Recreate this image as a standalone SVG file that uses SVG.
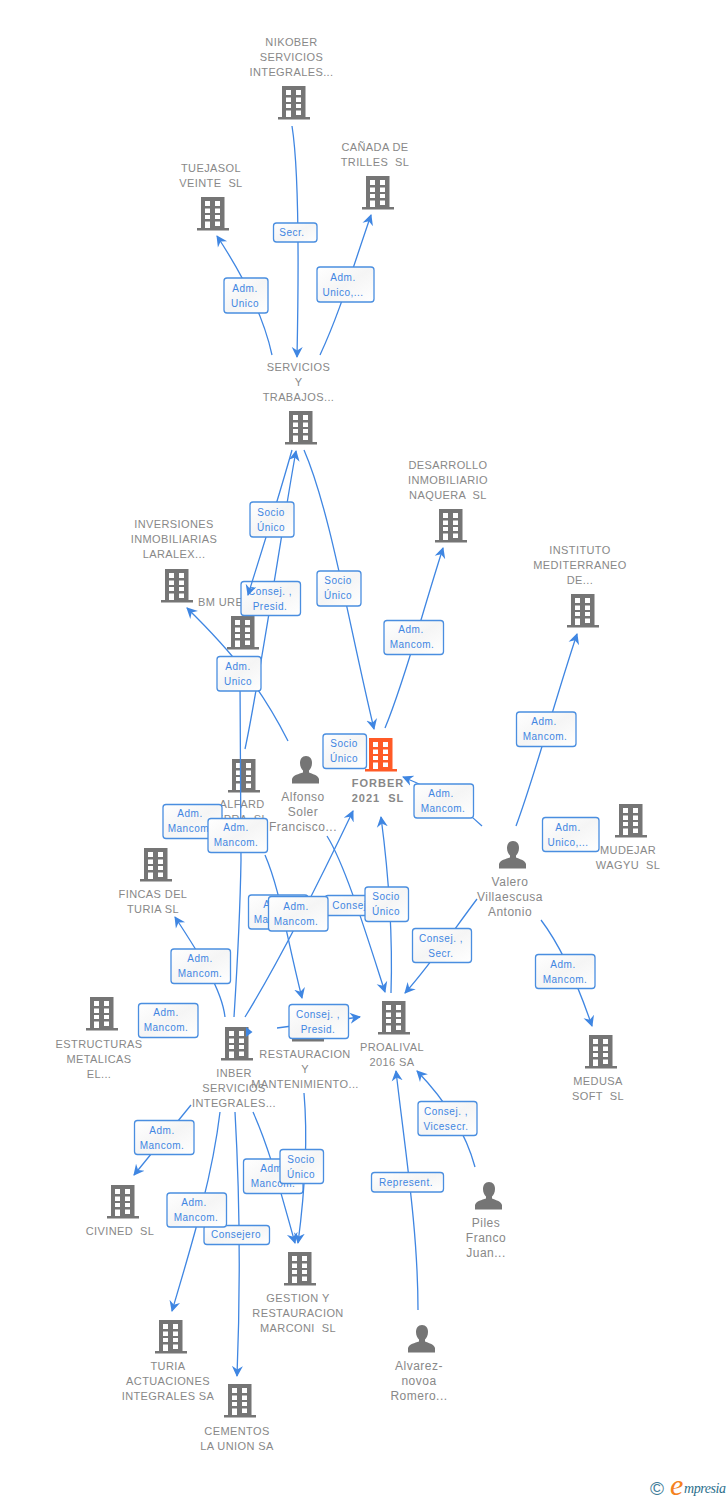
<svg xmlns="http://www.w3.org/2000/svg" width="728" height="1500" viewBox="0 0 728 1500">
<style>
.lb{font:11px "Liberation Sans",Arial,sans-serif;fill:#888888;text-anchor:middle;letter-spacing:.4px;white-space:pre}
.pl{font:12px "Liberation Sans",Arial,sans-serif;fill:#888888;text-anchor:middle;letter-spacing:.5px}
.b{font-weight:bold;letter-spacing:1px}
.c{fill:none;stroke:#3f86e2;stroke-width:1.3}
.a{marker-end:url(#ah)}
.bx{fill:url(#bg);stroke:#4a8ee0;stroke-width:1.3}
.t{font:10px "Liberation Sans",Arial,sans-serif;fill:#3f86e2;text-anchor:middle;letter-spacing:.5px}
</style>
<defs>
<linearGradient id="bg" x1="0" y1="0" x2="1" y2="1"><stop offset="0" stop-color="#ffffff"/><stop offset=".5" stop-color="#f5f5f5"/><stop offset="1" stop-color="#ffffff"/></linearGradient>
<marker id="ah" markerUnits="userSpaceOnUse" markerWidth="14" markerHeight="14" refX="10" refY="6" orient="auto"><path d="M0,.5 L11,6 L0,11.5 L3.500,6 Z" fill="#3f86e2"/></marker>
<symbol id="bld" width="32" height="34" viewBox="0 0 32 34" overflow="visible">
<path fill-rule="evenodd" d="M4,0H27.5V31H32V33.5H0V31H4ZM8,4V9H13V4ZM18,4V9H23V4ZM8,11.5V16H13V11.5ZM18,11.5V16H23V11.5ZM8,18V22H13V18ZM18,18V22H23V18ZM8,24.5V31H13V24.5ZM18,24.5V29H23V24.5Z"/>
</symbol>
<symbol id="psn" width="28" height="28" viewBox="0 0 28 28">
<path fill="#757575" d="M14,0C10,0 8,3 8,7C8,10.500 9.500,13 11,14.500V16.500C7,18 1,19 0,23V27.500H27V23C26,19 20,18 17,16.500V14.500C18.500,13 20,10.500 20,7C20,3 18,0 14,0Z"/>
</symbol>
</defs>
<rect width="728" height="1500" fill="#ffffff"/>
<g id="nodes" fill="#757575">
<g id="n-nikober"><use href="#bld" x="278" y="86"/><text class="lb"><tspan x="291.500" y="46">NIKOBER</tspan><tspan x="291.500" y="61">SERVICIOS</tspan><tspan x="291.500" y="76">INTEGRALES...</tspan></text></g>
<g id="n-tuejasol"><use href="#bld" x="197" y="197"/><text class="lb"><tspan x="211" y="172">TUEJASOL</tspan><tspan x="211" y="187">VEINTE  SL</tspan></text></g>
<g id="n-canada"><use href="#bld" x="362" y="176"/><text class="lb"><tspan x="375" y="151">CAÑADA DE</tspan><tspan x="375" y="166">TRILLES  SL</tspan></text></g>
<g id="n-servicios"><use href="#bld" x="285" y="411"/><text class="lb"><tspan x="298.500" y="371">SERVICIOS</tspan><tspan x="298.500" y="386">Y</tspan><tspan x="298.500" y="401">TRABAJOS...</tspan></text></g>
<g id="n-desarrollo"><use href="#bld" x="435" y="509"/><text class="lb"><tspan x="448" y="469">DESARROLLO</tspan><tspan x="448" y="484">INMOBILIARIO</tspan><tspan x="448" y="499">NAQUERA  SL</tspan></text></g>
<g id="n-inversiones"><use href="#bld" x="161" y="569"/><text class="lb"><tspan x="174" y="528">INVERSIONES</tspan><tspan x="174" y="543">INMOBILIARIAS</tspan><tspan x="174" y="558">LARALEX...</tspan></text></g>
<g id="n-bmure"><use href="#bld" x="227" y="616"/><text class="lb" style="text-anchor:start" x="198" y="606">BM URE</text></g>
<g id="n-instituto"><use href="#bld" x="567" y="594"/><text class="lb"><tspan x="580" y="554">INSTITUTO</tspan><tspan x="580" y="569">MEDITERRANEO</tspan><tspan x="580" y="584">DE...</tspan></text></g>
<g id="n-alfard"><use href="#bld" x="228" y="759"/><text class="lb"><tspan x="242" y="808">ALFARD</tspan><tspan x="242" y="823">KPRA  SL</tspan></text></g>
<g id="n-forber"><use href="#bld" x="365" y="738" fill="#ff5a26"/><text class="lb b"><tspan x="378" y="787">FORBER</tspan><tspan x="378" y="802">2021  SL</tspan></text></g>
<g id="n-mudejar"><use href="#bld" x="615" y="804"/><text class="lb"><tspan x="628" y="854">MUDEJAR</tspan><tspan x="628" y="869">WAGYU  SL</tspan></text></g>
<g id="n-fincas"><use href="#bld" x="140" y="848"/><text class="lb"><tspan x="153" y="898">FINCAS DEL</tspan><tspan x="153" y="913">TURIA SL</tspan></text></g>
<g id="n-estructuras"><use href="#bld" x="86" y="997"/><text class="lb"><tspan x="99" y="1048">ESTRUCTURAS</tspan><tspan x="99" y="1063">METALICAS</tspan><tspan x="99" y="1078">EL...</tspan></text></g>
<g id="n-inber"><use href="#bld" x="221" y="1027"/><text class="lb"><tspan x="234" y="1077">INBER</tspan><tspan x="234" y="1092">SERVICIOS</tspan><tspan x="234" y="1107">INTEGRALES...</tspan></text></g>
<g id="n-restauracion"><use href="#bld" x="292" y="1008"/><text class="lb"><tspan x="305" y="1058">RESTAURACION</tspan><tspan x="305" y="1073">Y</tspan><tspan x="305" y="1088">MANTENIMIENTO...</tspan></text></g>
<g id="n-proalival"><use href="#bld" x="378" y="1001"/><text class="lb"><tspan x="392" y="1051">PROALIVAL</tspan><tspan x="392" y="1066">2016 SA</tspan></text></g>
<g id="n-medusa"><use href="#bld" x="585" y="1035"/><text class="lb"><tspan x="598" y="1085">MEDUSA</tspan><tspan x="598" y="1100">SOFT  SL</tspan></text></g>
<g id="n-civined"><use href="#bld" x="107" y="1185"/><text class="lb" x="120" y="1235">CIVINED  SL</text></g>
<g id="n-gestion"><use href="#bld" x="284" y="1252"/><text class="lb"><tspan x="298" y="1302">GESTION Y</tspan><tspan x="298" y="1317">RESTAURACION</tspan><tspan x="298" y="1332">MARCONI  SL</tspan></text></g>
<g id="n-turia"><use href="#bld" x="155" y="1320"/><text class="lb"><tspan x="168" y="1370">TURIA</tspan><tspan x="168" y="1385">ACTUACIONES</tspan><tspan x="168" y="1400">INTEGRALES SA</tspan></text></g>
<g id="n-cementos"><use href="#bld" x="224" y="1384"/><text class="lb"><tspan x="237" y="1435">CEMENTOS</tspan><tspan x="237" y="1450">LA UNION SA</tspan></text></g>
<g id="n-alfonso"><use href="#psn" x="292" y="756"/><text class="pl"><tspan x="303" y="801">Alfonso</tspan><tspan x="303" y="816">Soler</tspan><tspan x="303" y="831">Francisco...</tspan></text></g>
<g id="n-valero"><use href="#psn" x="499" y="841"/><text class="pl"><tspan x="510" y="886">Valero</tspan><tspan x="510" y="901">Villaescusa</tspan><tspan x="510" y="916">Antonio</tspan></text></g>
<g id="n-piles"><use href="#psn" x="475" y="1182"/><text class="pl"><tspan x="486" y="1227">Piles</tspan><tspan x="486" y="1242">Franco</tspan><tspan x="486" y="1257">Juan...</tspan></text></g>
<g id="n-alvarez"><use href="#psn" x="408" y="1325"/><text class="pl"><tspan x="419" y="1370">Alvarez-</tspan><tspan x="419" y="1385">novoa</tspan><tspan x="419" y="1400">Romero...</tspan></text></g>
</g>
<g id="connectors">
<g><path class="c a" d="M292,126C299,170 299,260 297,357"/><rect class="bx" x="273.500" y="223" width="43.500" height="19" rx="3"/><text class="t" x="292" y="236">Secr.</text></g>
<g><path class="c a" d="M272,355C264,318 246,280 217,236"/><rect class="bx" x="224" y="278" width="44" height="35" rx="3"/><text class="t"><tspan x="245" y="292">Adm.</tspan><tspan x="245" y="307">Unico</tspan></text></g>
<g><path class="c a" d="M320,355C340,312 352,270 371,215"/><rect class="bx" x="317" y="267" width="57" height="35" rx="3"/><text class="t"><tspan x="343" y="281">Adm.</tspan><tspan x="343" y="296">Unico,...</tspan></text></g>
<g><path class="c a" d="M304,450C330,510 348,620 374,729"/><rect class="bx" x="317" y="571" width="44" height="35" rx="3"/><text class="t"><tspan x="338" y="584">Socio</tspan><tspan x="338" y="599">Único</tspan></text></g>
<g><path class="c a" d="M245,749C258,690 285,510 296,451"/><rect class="bx" x="241" y="581.500" width="59.500" height="34" rx="3"/><text class="t"><tspan x="270" y="595">Consej. ,</tspan><tspan x="270" y="610">Presid.</tspan></text></g>
<g><path class="c a" d="M292,450C278,500 262,550 248,595"/><rect class="bx" x="250" y="502" width="44" height="35" rx="3"/><text class="t"><tspan x="271" y="516">Socio</tspan><tspan x="271" y="531">Único</tspan></text></g>
<g><path class="c a" d="M288,741C262,690 235,655 187,608"/><path class="c" d="M240,680L241,860C240,920 237,970 234,1017"/><rect class="bx" x="217" y="656.500" width="44" height="34.500" rx="3"/><text class="t"><tspan x="238" y="670">Adm.</tspan><tspan x="238" y="685">Unico</tspan></text></g>
<g><rect class="bx" x="163" y="804.500" width="59" height="34" rx="3"/><text class="t"><tspan x="190" y="817">Adm.</tspan><tspan x="190" y="832">Mancom.</tspan></text></g>
<g><rect class="bx" x="208" y="818.500" width="59.500" height="34" rx="3"/><text class="t"><tspan x="236" y="831">Adm.</tspan><tspan x="236" y="846">Mancom.</tspan></text></g>
<g><path class="c a" d="M225,1017C222,990 200,955 175,917"/><rect class="bx" x="171" y="949" width="59.500" height="34.500" rx="3"/><text class="t"><tspan x="200" y="962">Adm.</tspan><tspan x="200" y="977">Mancom.</tspan></text></g>
<g><rect class="bx" x="138.500" y="1003.500" width="59.500" height="34" rx="3"/><text class="t"><tspan x="166" y="1016">Adm.</tspan><tspan x="166" y="1031">Mancom.</tspan></text></g>
<g><path class="c a" d="M265,855C280,890 285,930 302,998"/><rect class="bx" x="248.500" y="895" width="59.500" height="34" rx="3"/><text class="t"><tspan x="276" y="908">Adm.</tspan><tspan x="276" y="923">Mancom.</tspan></text></g>
<g><path class="c a" d="M327,836C345,865 365,930 385,992"/><rect class="bx" x="325" y="895.500" width="50" height="20" rx="3"/><text class="t" x="351" y="909">Consej.</text></g>
<g><path class="c a" d="M245,1017C280,960 320,880 353,811"/><rect class="bx" x="268.500" y="896.500" width="59.500" height="34.500" rx="3"/><text class="t"><tspan x="296" y="910">Adm.</tspan><tspan x="296" y="925">Mancom.</tspan></text></g>
<g><path class="c a" d="M391,993C393,930 388,870 381,817"/><rect class="bx" x="365" y="887" width="43.500" height="34.500" rx="3"/><text class="t"><tspan x="386" y="900">Socio</tspan><tspan x="386" y="915">Único</tspan></text></g>
<g><path d="M246,1027L252.500,1032L246,1037Z" fill="#3f86e2"/><path class="c a" d="M277,1028L360,1017"/><rect class="bx" x="289" y="1004.500" width="59.500" height="34" rx="3"/><text class="t"><tspan x="318" y="1018">Consej. ,</tspan><tspan x="318" y="1033">Presid.</tspan></text></g>
<g><rect class="bx" x="323" y="734" width="43.500" height="34.500" rx="3"/><text class="t"><tspan x="344" y="747">Socio</tspan><tspan x="344" y="762">Único</tspan></text></g>
<g><path class="c a" d="M385,728C405,680 420,620 443,548"/><rect class="bx" x="384" y="620.500" width="59.500" height="34" rx="3"/><text class="t"><tspan x="411" y="633">Adm.</tspan><tspan x="412" y="648">Mancom.</tspan></text></g>
<g><path class="c a" d="M482,826C460,805 435,790 403,777"/><rect class="bx" x="414" y="784" width="59.500" height="34" rx="3"/><text class="t"><tspan x="441" y="797">Adm.</tspan><tspan x="443" y="812">Mancom.</tspan></text></g>
<g><path class="c a" d="M516,826C535,775 555,700 577,634"/><rect class="bx" x="516.500" y="712" width="59.500" height="34.500" rx="3"/><text class="t"><tspan x="544" y="725">Adm.</tspan><tspan x="545" y="740">Mancom.</tspan></text></g>
<g><rect class="bx" x="542.500" y="817.500" width="56.500" height="34" rx="3"/><text class="t"><tspan x="568" y="831">Adm.</tspan><tspan x="568" y="846">Unico,...</tspan></text></g>
<g><path class="c a" d="M477,899C450,935 430,965 405,993"/><rect class="bx" x="412.500" y="928.500" width="59" height="34" rx="3"/><text class="t"><tspan x="441" y="942">Consej. ,</tspan><tspan x="441" y="957">Secr.</tspan></text></g>
<g><path class="c a" d="M541,920C560,945 578,985 592,1026"/><rect class="bx" x="535.500" y="954.500" width="59.500" height="34" rx="3"/><text class="t"><tspan x="563" y="968">Adm.</tspan><tspan x="565" y="983">Mancom.</tspan></text></g>
<g><path class="c a" d="M475,1167C465,1130 445,1100 417,1071"/><rect class="bx" x="418" y="1101.500" width="59" height="34" rx="3"/><text class="t"><tspan x="446" y="1115">Consej. ,</tspan><tspan x="446" y="1130">Vicesecr.</tspan></text></g>
<g><path class="c a" d="M418,1310C418,1230 405,1150 396,1071"/><rect class="bx" x="371.500" y="1172.500" width="72" height="19.500" rx="3"/><text class="t" x="406" y="1186">Represent.</text></g>
<g><path class="c a" d="M191,1105L134,1175"/><rect class="bx" x="134.500" y="1120.500" width="59.500" height="34" rx="3"/><text class="t"><tspan x="162" y="1134">Adm.</tspan><tspan x="162" y="1149">Mancom.</tspan></text></g>
<g><path class="c a" d="M235,1112C240,1200 240,1300 237,1376"/><rect class="bx" x="204" y="1225.500" width="65.500" height="19" rx="3"/><text class="t" x="236" y="1238">Consejero</text></g>
<g><path class="c a" d="M220,1112C212,1180 190,1250 172,1311"/><rect class="bx" x="167" y="1193" width="59.500" height="34" rx="3"/><text class="t"><tspan x="194" y="1206">Adm.</tspan><tspan x="196" y="1221">Mancom.</tspan></text></g>
<g><path class="c a" d="M253,1112C270,1150 280,1190 295,1243"/><rect class="bx" x="243.500" y="1159" width="59.500" height="34.500" rx="3"/><text class="t"><tspan x="273" y="1172">Adm.</tspan><tspan x="273" y="1187">Mancom.</tspan></text></g>
<g><path class="c a" d="M304,1093C308,1140 305,1190 298,1243"/><rect class="bx" x="280" y="1149.500" width="43.500" height="34" rx="3"/><text class="t"><tspan x="301" y="1163">Socio</tspan><tspan x="301" y="1178">Único</tspan></text></g>
</g>
<g id="logo">
<text x="650" y="1495" style="font:19px 'Liberation Sans',Arial,sans-serif;fill:#3f7d99">©</text>
<text x="670" y="1495" style="font:italic 30px 'Liberation Serif',serif;fill:#f58220">e</text>
<text x="684" y="1493" textLength="42" style="font:italic 14px 'Liberation Serif',serif;fill:#2b6f8c">mpresia</text>
</g>
</svg>
